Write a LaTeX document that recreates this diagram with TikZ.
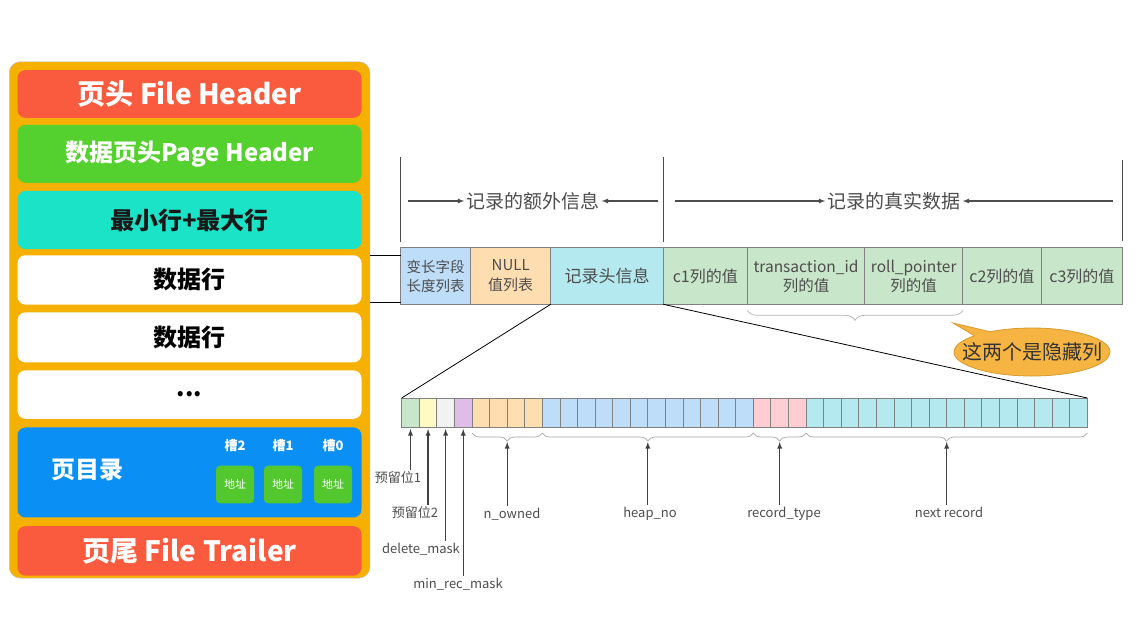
\documentclass[tikz,border=0pt]{standalone}
\usepackage{fontspec}
\setmainfont{Noto Sans CJK SC}
\usepackage{tikz}
\usetikzlibrary{calc}
\usetikzlibrary{positioning}
\usetikzlibrary{shapes.callouts}
\usetikzlibrary{decorations.pathreplacing}
\definecolor{hdrred}{HTML}{FA5A3E}
\definecolor{pggreen}{HTML}{55D12F}
\definecolor{mmteal}{HTML}{1AE3C8}
\definecolor{dirblue}{HTML}{0A90F5}
\definecolor{pageorange}{HTML}{F6B000}
\definecolor{addrgreen}{HTML}{52C72E}
\definecolor{cblue}{HTML}{BDDDF9}
\definecolor{corange}{HTML}{FEDDB0}
\definecolor{ccyan}{HTML}{B3E9EF}
\definecolor{cgreen}{HTML}{C8E6C9}
\definecolor{cyellow}{HTML}{FFF9C4}
\definecolor{cwhite}{HTML}{F2F2F2}
\definecolor{cpurple}{HTML}{DFBDE8}
\definecolor{cpink}{HTML}{FFCDD2}
\definecolor{txtgray}{HTML}{4D4D4D}
\definecolor{linegray}{HTML}{808080}
\definecolor{calloutfill}{HTML}{F6B443}
\definecolor{calloutline}{HTML}{D89A2C}

\begin{document}
\begin{tikzpicture}[x=1pt, y=-1pt,
part/.style = {rectangle, rounded corners=8pt, minimum width=344pt, inner sep=0pt, font=\fontsize{24}{28}\selectfont\bfseries},
field/.style = {rectangle, draw=linegray, line width=1pt, outer sep=0pt, minimum height=56.6pt, inner sep=0pt, align=center, text=txtgray, font=\fontsize{16}{19}\selectfont},
bit/.style = {rectangle, draw=linegray, line width=0.8pt, outer sep=0pt, minimum width=17.58pt, minimum height=29pt, inner sep=0pt},
bitlabel/.style = {text=txtgray, font=\fontsize{13}{15}\selectfont, inner sep=2pt},
toplabel/.style = {text=txtgray, font=\fontsize{19}{22}\selectfont, inner sep=2pt},
bar/.style = {draw=txtgray, line width=1.5pt},
span/.style = {-latex, draw=txtgray, line width=1.2pt},
up/.style = {-latex, draw=black!75, line width=1.3pt},
grp/.style = {decorate, decoration={brace, mirror, amplitude=8pt, raise=6pt}, draw=gray!70, line width=0.7pt}
]
\fill[white] (0,0) rectangle (1140,640);
\useasboundingbox (0,0) rectangle (1140,640);

% page layout
\node (page)[rectangle, rounded corners=11pt, fill=pageorange, draw=gray!50, minimum width=360.7pt, minimum height=516.3pt] at (189.6,319.9) {};
\node (fh)[part, fill=hdrred, text=white, minimum height=47.7pt, font=\fontsize{28}{32}\selectfont\bfseries] at (189.5,93.9) {页头 File Header};
\node (ph)[part, fill=pggreen, text=white, minimum height=58pt, below=6.6pt of fh] {数据页头Page Header};
\node (mm)[part, fill=mmteal, text=black!90, minimum height=58.3pt, below=7.7pt of ph] {最小行+最大行};
\node (row1)[part, fill=white, minimum height=49.3pt, below=5.7pt of mm] {数据行};
\node (row2)[part, fill=white, minimum height=50pt, below=7.4pt of row1] {数据行};
\node (more)[part, fill=white, minimum height=48.4pt, below=7.6pt of row2] {...};
\node (dir)[part, fill=dirblue, minimum height=90pt, below=8.3pt of more] {};
\node (ft)[part, fill=hdrred, text=white, minimum height=49.4pt, below=8.3pt of dir, font=\fontsize{28}{32}\selectfont\bfseries] {页尾 File Trailer};

\node (dirname)[text=white, font=\fontsize{24}{28}\selectfont\bfseries] at (87,470) {页目录};
\foreach \s/\x in {2/235,1/283,0/333}{
  \node (slot\s)[text=white, font=\fontsize{13}{15}\selectfont\bfseries] at (\x,446) {槽\s};
  \node (addr\s)[rectangle, rounded corners=4pt, fill=addrgreen, text=white, minimum width=38pt, minimum height=37.6pt, font=\fontsize{11}{13}\selectfont] at (\x,484.5) {地址};
}

% one record
\node (varlen)[field, fill=cblue, minimum width=70pt, font=\fontsize{14.5}{19}\selectfont] at (435.7,276) {变长字段\\长度列表};
\node (nulls)[field, fill=corange, minimum width=80pt, right=0pt of varlen, font=\fontsize{15}{20}\selectfont] {NULL\\值列表};
\node (rhdr)[field, fill=ccyan, minimum width=112.6pt, right=0pt of nulls, font=\fontsize{17}{20}\selectfont] {记录头信息};
\node (c1)[field, fill=cgreen, minimum width=84pt, right=0pt of rhdr] {c1列的值};
\node (trx)[field, fill=cgreen, minimum width=117.4pt, right=0pt of c1, font=\fontsize{15.5}{19}\selectfont] {transaction\_id\\列的值};
\node (roll)[field, fill=cgreen, minimum width=98pt, right=0pt of trx, font=\fontsize{15.5}{19}\selectfont] {roll\_pointer\\列的值};
\node (c2)[field, fill=cgreen, minimum width=78.3pt, right=0pt of roll] {c2列的值};
\node (c3)[field, fill=cgreen, minimum width=81.7pt, right=0pt of c2] {c3列的值};

\draw[line width=1pt] ([yshift=-0.5pt]row1.north east -| page.east) -- ([yshift=-0.5pt]row1.north east -| varlen.west);
\draw[line width=1pt] ([yshift=2.5pt]row1.south east -| page.east) -- ([yshift=2.5pt]row1.south east -| varlen.west);

\draw[bar] ([yshift=6pt]varlen.north west) -- ([yshift=91pt]varlen.north west);
\draw[bar] ([yshift=6pt]rhdr.north east) -- ([yshift=91pt]rhdr.north east);
\draw[bar] ([yshift=7pt]c3.north east) -- ([yshift=88pt]c3.north east);

\node (extra)[toplabel] at (533,201) {记录的额外信息};
\coordinate (extraL) at (408,201);
\coordinate (extraR) at (658,201);
\draw[span] (extraL) -- (extra.west);
\draw[span] (extraR) -- (extra.east);
\node (real)[toplabel] at (894,201) {记录的真实数据};
\coordinate (realL) at (675,201);
\coordinate (realR) at (1113,201);
\draw[span] (realL) -- (real.west);
\draw[span] (realR) -- (real.east);

\draw[decorate, decoration={brace, mirror, amplitude=10pt, raise=6pt}, draw=gray!60, line width=0.7pt] (trx.south west) -- (roll.south east);
\node (hidden)[ellipse callout, callout absolute pointer={(953,323)}, fill=calloutfill, draw=calloutline, line width=0.8pt, minimum width=156pt, minimum height=48pt, inner sep=0pt] at (1032,352) {};
\node (hiddentxt)[text=black!80, font=\fontsize{20}{24}\selectfont] at (hidden.center) {这两个是隐藏列};

% record header bits
\foreach \c [count=\i] in {cgreen,cyellow,cwhite,cpurple,corange,corange,corange,corange,
  cblue,cblue,cblue,cblue,cblue,cblue,cblue,cblue,cblue,cblue,cblue,cblue,
  cpink,cpink,cpink,
  ccyan,ccyan,ccyan,ccyan,ccyan,ccyan,ccyan,ccyan,ccyan,ccyan,ccyan,ccyan,ccyan,ccyan,ccyan,ccyan}
  \node (b\i)[bit, fill=\c] at ({401.7+(\i-0.5)*17.58},412.5) {};

\draw[line width=0.8pt] (rhdr.south west) -- (b1.north west);
\draw[line width=0.8pt] (rhdr.south east) -- (b39.north east);

\node (res1)[bitlabel] at (398,478) {预留位1};
\node (res2)[bitlabel] at (415,513) {预留位2};
\node (delmask)[bitlabel] at (421,549) {delete\_mask};
\node (minrec)[bitlabel] at (458,584) {min\_rec\_mask};
\draw[up] (b1.south |- res1.north) -- ([yshift=-2pt]b1.south);
\draw[up] (b2.south |- res2.north) -- ([yshift=-2pt]b2.south);
\draw[up] (b3.south |- delmask.north) -- ([yshift=-2pt]b3.south);
\draw[up] (b4.south |- minrec.north) -- ([yshift=-2pt]b4.south);

\draw[grp] (b5.south west) -- (b8.south east);
\draw[grp] (b9.south west) -- (b20.south east);
\draw[grp] (b21.south west) -- (b23.south east);
\draw[grp] (b24.south west) -- (b39.south east);
\coordinate (ownedtip) at ($(b5.south west)!.5!(b8.south east)+(0,15)$);
\coordinate (heaptip) at ($(b9.south west)!.5!(b20.south east)+(0,15)$);
\coordinate (typetip) at ($(b21.south west)!.5!(b23.south east)+(0,15)$);
\coordinate (nexttip) at ($(b24.south west)!.5!(b39.south east)+(0,15)$);

\node (nowned)[bitlabel] at (512,514) {n\_owned};
\node (heapno)[bitlabel] at (650,514) {heap\_no};
\node (rtype)[bitlabel] at (784,514) {record\_type};
\node (nextrec)[bitlabel] at (949,512) {next record};
\draw[up] (ownedtip |- nowned.north) -- (ownedtip);
\draw[up] (heaptip |- heapno.north) -- (heaptip);
\draw[up] (typetip |- rtype.north) -- (typetip);
\draw[up] (nexttip |- nextrec.north) -- (nexttip);

\end{tikzpicture}
\end{document}
